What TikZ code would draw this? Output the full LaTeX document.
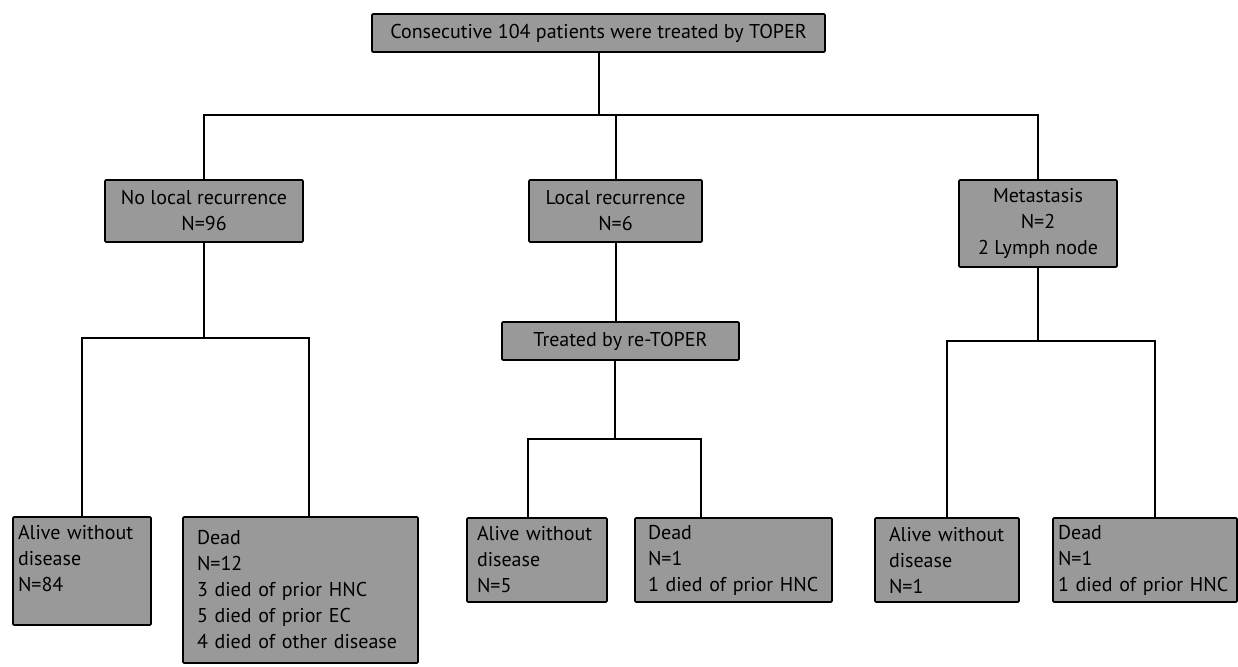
\documentclass[tikz,border=0pt]{standalone}
\usepackage{fontspec}
\setmainfont{PT Sans}
\usepackage{tikz}

\begin{document}
\begin{tikzpicture}[x=1pt,y=-1pt,
    box/.style={draw=black, line width=1.6pt, fill=black!40, inner sep=0pt, outer sep=0pt,
      rounded corners=1pt, font=\fontsize{20}{26}\selectfont, align=center},
    leaf/.style={box, align=left, inner ysep=0pt},
    link/.style={draw=black, line width=2pt}]
  \useasboundingbox (0,0) rectangle (1238,666);

  % first level
  \node[box, minimum width=453pt, minimum height=38pt] (start) at (598.5,33) {Consecutive 104 patients were treated by TOPER};
  \node[box, minimum width=198pt, minimum height=62pt] (noloc) at (204,211) {No local recurrence\\N=96};
  \node[box, minimum width=173pt, minimum height=62pt] (loc) at (615.5,211) {Local recurrence\\N=6};
  \node[box, minimum width=158pt, minimum height=87pt] (meta) at (1038,223.5) {Metastasis\\N=2\\2 Lymph node};
  \node[box, minimum width=237pt, minimum height=38pt] (retoper) at (620.5,341) {Treated by re-TOPER};

  % outcomes
  \node[leaf, text width=128pt, inner xsep=5pt, minimum height=108pt] (alive1) at (82,571) {Alive without\\disease\\N=84\\~};
  \node[leaf, text width=207pt, inner xsep=14pt, minimum height=146pt] (dead1) at (300.5,590) {Dead\\N=12\\3 died of prior HNC\\5 died of prior EC\\4 died of other disease};
  \node[leaf, text width=120pt, inner xsep=10pt, minimum height=84pt] (alive2) at (537,560) {Alive without\\disease\\N=5};
  \node[leaf, text width=171pt, inner xsep=13pt, minimum height=84pt] (dead2) at (733.5,560) {Dead\\N=1\\1 died of prior HNC};
  \node[leaf, text width=116pt, inner xsep=14pt, minimum height=84pt] (alive3) at (947,560) {Alive without\\disease\\N=1};
  \node[leaf, text width=174pt, inner xsep=5pt, minimum height=84pt] (dead3) at (1145,560) {Dead\\N=1\\1 died of prior HNC};

  % connectors
  \coordinate (bar) at (598,115);
  \draw[link] (start.south) -- (start.south |- bar);
  \draw[link] (noloc.north) |- (bar) -| (meta.north);
  \draw[link] (loc.north) -- (loc.north |- bar);

  \coordinate (split1) at (204,338);
  \coordinate (d1top) at (309,517);
  \draw[link] (noloc.south) -- (split1);
  \draw[link] (alive1.north) |- (split1) -| (d1top);

  \coordinate (split2) at (615,439);
  \coordinate (a2top) at (528,518);
  \coordinate (d2top) at (701,518);
  \draw[link] (loc.south) -- (loc.south |- retoper.north);
  \draw[link] (retoper.south -| split2) -- (split2);
  \draw[link] (a2top) |- (split2) -| (d2top);

  \coordinate (split3) at (1038,341);
  \coordinate (d3top) at (1155,518);
  \draw[link] (meta.south) -- (split3);
  \draw[link] (alive3.north) |- (split3) -| (d3top);
\end{tikzpicture}
\end{document}
